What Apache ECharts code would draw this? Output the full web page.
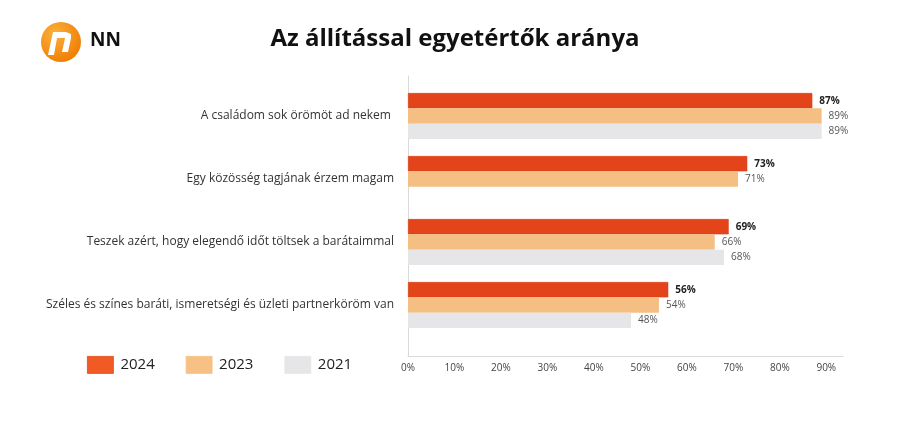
<!DOCTYPE html>
<html><head><meta charset="utf-8">
<script src="https://cdn.jsdelivr.net/npm/echarts@6/dist/echarts.min.js"></script>
<style>html,body{margin:0;padding:0;background:#fff}#c{width:900px;height:423px}</style>
</head><body><div id="c"></div>
<script>
const categories = ['A családom sok örömöt ad nekem ', 'Egy közösség tagjának érzem magam', 'Teszek azért, hogy elegendő időt töltsek a barátaimmal', 'Széles és színes baráti, ismeretségi és üzleti partnerköröm van'];
const seriesNames = ['2024', '2023', '2021'];
const v2024 = [87, 73, 69, 56];
const v2023 = [89, 71, 66, 54];
const v2021 = [89, null, 68, 48];
const xTicks = [0, 10, 20, 30, 40, 50, 60, 70, 80, 90];

const chart = echarts.init(document.getElementById('c'));
const font = 'Open Sans';
const xMax = 93.6;
const fmtTick = v => xTicks.indexOf(Math.round(v)) >= 0 && Math.abs(v - Math.round(v)) < 1e-6 ? v + '%' : '';
const colors = ['#E4441A', '#F5BF84', '#E6E6E8'];
const legendColors = ['#F15A24', '#F7C084', '#E6E6E8'];

function mkSeries(name, data, i) {
  return {
    name: name, type: 'bar', xAxisIndex: 1, yAxisIndex: 1,
    data: data, barWidth: 15.3, barGap: '0%',
    itemStyle: { color: colors[i], borderColor: i === 0 ? '#D83C12' : colors[i], borderWidth: i === 0 ? 0.6 : 0 },
    label: {
      show: true, position: 'right', distance: 7,
      formatter: p => p.value == null ? '' : p.value + '%',
      fontFamily: font, fontSize: 10,
      fontWeight: i === 0 ? 'bold' : 'normal',
      color: i === 0 ? '#222' : '#555'
    }
  };
}

chart.setOption({
  animation: false,
  textStyle: { fontFamily: font },
  title: {
    text: 'Az állítással egyetértők aránya', left: 450, textAlign: 'center', top: 22,
    textStyle: { fontFamily: font, fontSize: 24, fontWeight: 'bold', color: '#111' }
  },
  graphic: [
    { type: 'circle', shape: { cx: 61, cy: 42, r: 20 },
      style: { fill: { type: 'radial', x: 0.35, y: 0.3, r: 0.8, colorStops: [{ offset: 0, color: '#FBB03B' }, { offset: 1, color: '#EE7A00' }] } } },
    { type: 'polygon', shape: { points: [[48, 55], [53, 32], [66, 32], [71, 34], [71, 38], [68, 52], [62, 52], [65, 38], [57, 38], [54, 55]] },
      style: { fill: '#fff' } },
    { type: 'text', x: 90, y: 31, style: { text: 'NN', font: 'bold 19px "Open Sans"', fill: '#111' } }
  ],
  legend: {
    data: seriesNames.map((n, i) => ({ name: n, itemStyle: { color: legendColors[i], borderColor: i === 0 ? '#E04A18' : legendColors[i], borderWidth: 0.8 } })),
    left: 82, top: 351, itemWidth: 26, itemHeight: 17, itemGap: 31,
    icon: 'rect',
    textStyle: { fontFamily: font, fontSize: 15, color: '#222', padding: [0, 0, 0, 2] }
  },
  grid: [
    { left: 408, right: 57, top: 76, bottom: 67 },
    { left: 408, right: 57, top: 84.5, height: 252 }
  ],
  xAxis: [
    { gridIndex: 0, type: 'value', min: 0, max: xMax, interval: 10,
      axisLine: { show: true, lineStyle: { color: '#D9D9D9', width: 1 } },
      axisTick: { show: false }, splitLine: { show: false },
      axisLabel: { formatter: fmtTick, fontFamily: font, fontSize: 10, color: '#444', margin: 7, showMaxLabel: true } },
    { gridIndex: 1, type: 'value', min: 0, max: xMax, show: false, splitLine: { show: false } }
  ],
  yAxis: [
    { gridIndex: 0, type: 'value', min: 0, max: 1,
      axisLine: { show: true, lineStyle: { color: '#D9D9D9', width: 1 } },
      axisTick: { show: false }, axisLabel: { show: false }, splitLine: { show: false } },
    { gridIndex: 1, type: 'category', data: categories, inverse: true,
      axisLine: { show: false }, axisTick: { show: false },
      axisLabel: { fontFamily: font, fontSize: 12, color: '#333', margin: 14 } }
  ],
  series: [mkSeries('2024', v2024, 0), mkSeries('2023', v2023, 1), mkSeries('2021', v2021, 2)]
});
</script></body></html>
